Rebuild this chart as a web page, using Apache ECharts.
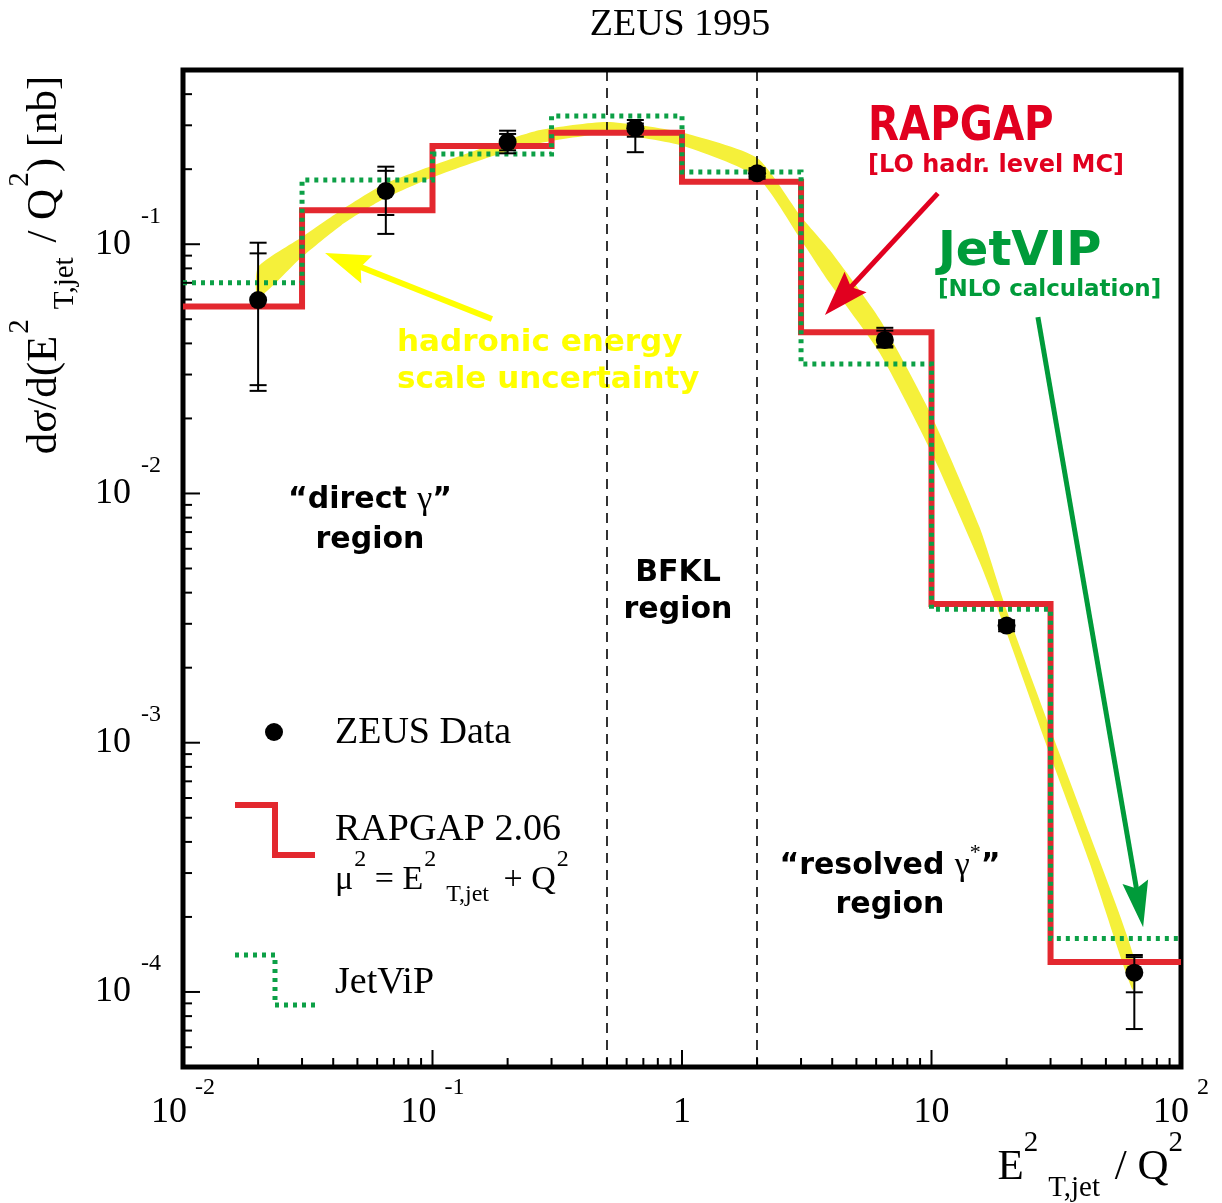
<!DOCTYPE html>
<html><head><meta charset="utf-8">
<script src="https://cdn.jsdelivr.net/npm/echarts@6/dist/echarts.min.js"></script>
<style>html,body{margin:0;padding:0;background:#fff}#c{width:1222px;height:1203px}</style>
</head><body><div id="c"></div>
<script>
// ---------------- data ----------------
const binEdges = [0.01, 0.03, 0.1, 0.3, 1, 3, 10, 30, 100];
const rapgap = [0.0562, 0.137, 0.248, 0.280, 0.178, 0.0443, 0.0036, 0.000132];
const jetvip = [0.0701, 0.181, 0.230, 0.327, 0.195, 0.0331, 0.00343, 0.000164];

const dataX  = [0.02, 0.065, 0.2, 0.65, 2.0, 6.5, 20, 65];
const dataY  = [0.0597, 0.1635, 0.257, 0.292, 0.1925, 0.0413, 0.00295, 0.0001195];
const statLo = [0.0272, 0.131, 0.238, 0.27, 0.186, 0.039, 0.00285, 0.0000997];
const statHi = [0.0919, 0.197, 0.277, 0.305, 0.199, 0.045, 0.00305, 0.000138];
const totLo  = [0.0258, 0.110, 0.2316, 0.234, 0.183, 0.0385, 0.0028, 0.000071];
const totHi  = [0.1014, 0.2047, 0.2854, 0.315, 0.202, 0.0462, 0.0031, 0.0001407];

const bandX  = [0.02, 0.03, 0.043, 0.063, 0.098, 0.19, 0.27, 0.5, 0.98, 2.0, 3.0, 3.9, 6.2, 9.9, 15.6, 20, 30, 43, 64];
const bandHi = [0.081, 0.107, 0.137, 0.173, 0.205, 0.258, 0.287, 0.309, 0.282, 0.222, 0.129, 0.095, 0.050, 0.021, 0.0073, 0.0034, 0.00113, 0.00043, 0.000143];
const bandLo = [0.061, 0.089, 0.119, 0.151, 0.184, 0.232, 0.255, 0.277, 0.250, 0.186, 0.104, 0.070, 0.0366, 0.0149, 0.0053, 0.00276, 0.00088, 0.00033, 0.000102];

const regionLines = [0.5, 2];

const arrowFrom = [[10.6, 0.160], [26.7, 0.0510], [0.173, 0.0501]];
const arrowTo   = [[3.74, 0.052], [70.5, 0.000182], [0.0371, 0.0923]];

const xMajorTicks = [0.01, 0.1, 1, 10, 100];
const yMajorTicks = [0.0001, 0.001, 0.01, 0.1];
const minorMult = [2, 3, 4, 5, 6, 7, 8, 9];
const xDecades = [0.01, 0.1, 1, 10];
const yDecades = [0.00001, 0.0001, 0.001, 0.01, 0.1];
const xMin = 0.01, xMax = 100, yMin = 0.00005, yMax = 0.5;

// ---------------- styles ----------------
const SERIF = '"Liberation Serif", "Times New Roman", serif';
const COMIC = '"DejaVu Sans", sans-serif';
const RED_LINE = '#e3282f', GREEN_LINE = '#0ca046';
const RED_TXT = '#e1001f', GREEN_TXT = '#009b3a', YELLOW_TXT = '#ffff00', BAND = '#f5f03a';
const arrowColor = [RED_TXT, GREEN_TXT, YELLOW_TXT];
const arrowWidth = [5, 5, 6];
const headLen = [45, 46, 45];
const headWid = [30, 26, 30];

function stepData(vals) {
  const d = vals.map((v, i) => [binEdges[i], v]);
  d.push([binEdges[binEdges.length - 1], vals[vals.length - 1]]);
  return d;
}

const tickData = [];
xMajorTicks.forEach(v => tickData.push([v, yMin, 17, 0]));
xDecades.forEach(d => minorMult.forEach(m => { const v = d * m; if (v < xMax) tickData.push([v, yMin, 9, 0]); }));
yMajorTicks.forEach(v => tickData.push([xMin, v, 17, 1]));
yDecades.forEach(d => minorMult.forEach(m => { const v = d * m; if (v > yMin && v < yMax) tickData.push([xMin, v, 9, 1]); }));

const chart = echarts.init(document.getElementById('c'), null, {renderer: 'canvas'});

function expOf(v) { const l = Math.log10(v); const e = Math.round(l); return Math.abs(l - e) < 1e-6 ? e : null; }

const option = {
  backgroundColor: '#fff',
  animation: false,
  grid: {left: 183, right: 41, top: 70, bottom: 136, show: true, borderColor: '#000', borderWidth: 5, containLabel: false, outerBoundsMode: 'none'},
  xAxis: {
    type: 'log', logBase: 10, min: xMin, max: xMax,
    axisLine: {show: false}, axisTick: {show: false}, splitLine: {show: false}, minorTick: {show: false},
    axisLabel: {
      margin: 6, color: '#000',
      formatter: v => {
        const e = expOf(v); if (e === null) return '';
        if (e === 0) return '{b|1}';
        if (e === 1) return '{b|10}';
        return '{b|10}{s|' + e + '}';
      },
      rich: {
        b: {fontFamily: SERIF, fontSize: 36, lineHeight: 80, color: '#000'},
        s: {fontFamily: SERIF, fontSize: 24, padding: [0, 0, 50, 8], color: '#000'}
      }
    }
  },
  yAxis: {
    type: 'log', logBase: 10, min: yMin, max: yMax,
    axisLine: {show: false}, axisTick: {show: false}, splitLine: {show: false}, minorTick: {show: false},
    axisLabel: {
      margin: 22, color: '#000', showMinLabel: false, showMaxLabel: false,
      formatter: v => {
        const e = expOf(v); if (e === null) return '';
        return '{b|10}{s|' + e + '}';
      },
      rich: {
        b: {fontFamily: SERIF, fontSize: 36, lineHeight: 90, color: '#000'},
        s: {fontFamily: SERIF, fontSize: 24, padding: [0, 0, 56, 10], color: '#000'}
      }
    }
  },
  series: [
    { // hadronic energy scale band
      type: 'custom', z: 1, silent: true,
      data: [[bandX[0], bandHi[0]]],
      renderItem: (params, api) => {
        const pts = [];
        for (let i = 0; i < bandX.length; i++) pts.push(api.coord([bandX[i], bandHi[i]]));
        for (let i = bandX.length - 1; i >= 0; i--) pts.push(api.coord([bandX[i], bandLo[i]]));
        return {type: 'polygon', shape: {points: pts, smooth: 0.2}, style: {fill: BAND}};
      }
    },
    { // RAPGAP
      type: 'line', step: 'end', z: 3, symbol: 'none', silent: true,
      data: stepData(rapgap),
      lineStyle: {color: RED_LINE, width: 6, join: 'miter', cap: 'butt'},
      markLine: {
        silent: true, symbol: 'none', z: 2,
        label: {show: false},
        lineStyle: {color: '#000', width: 1.6, type: [10, 7]},
        data: regionLines.map(v => ({xAxis: v}))
      }
    },
    { // JetViP
      type: 'line', step: 'end', z: 4, symbol: 'none', silent: true,
      data: stepData(jetvip),
      lineStyle: {color: GREEN_LINE, width: 5, type: [4, 5], join: 'miter', cap: 'butt'}
    },
    { // error bars
      type: 'custom', z: 5, silent: true,
      data: dataX.map((x, i) => [x, dataY[i], statLo[i], statHi[i], totLo[i], totHi[i]]),
      renderItem: (params, api) => {
        const x = api.value(0);
        const ends = [2, 3, 4, 5].map(k => api.coord([x, api.value(k)]));
        const cw = 8.5;
        const st = {stroke: '#000', lineWidth: 2};
        const ch = [{type: 'line', shape: {x1: ends[2][0], y1: ends[2][1], x2: ends[3][0], y2: ends[3][1]}, style: st}];
        ends.forEach(p => ch.push({type: 'line', shape: {x1: p[0] - cw, y1: p[1], x2: p[0] + cw, y2: p[1]}, style: st}));
        return {type: 'group', children: ch};
      }
    },
    { // ZEUS data
      type: 'scatter', z: 6, silent: true, symbol: 'circle', symbolSize: 18,
      itemStyle: {color: '#000', opacity: 1},
      data: dataX.map((x, i) => [x, dataY[i]])
    },
    { // arrows
      type: 'custom', z: 7, silent: true,
      data: arrowFrom.map(p => [p[0], p[1]]),
      renderItem: (params, api) => {
        const i = params.dataIndex;
        const a = api.coord(arrowFrom[i]), b = api.coord(arrowTo[i]);
        const dx = b[0] - a[0], dy = b[1] - a[1], L = Math.hypot(dx, dy), ux = dx / L, uy = dy / L;
        const hl = headLen[i], hw = headWid[i] / 2;
        const base = [b[0] - ux * hl, b[1] - uy * hl];
        const notch = [b[0] - ux * hl * 0.85, b[1] - uy * hl * 0.85];
        return {type: 'group', children: [
          {type: 'line', shape: {x1: a[0], y1: a[1], x2: notch[0] + ux * 2, y2: notch[1] + uy * 2}, style: {stroke: arrowColor[i], lineWidth: arrowWidth[i]}},
          {type: 'polygon', shape: {points: [b, [base[0] - uy * hw, base[1] + ux * hw], notch, [base[0] + uy * hw, base[1] - ux * hw]]}, style: {fill: arrowColor[i]}}
        ]};
      }
    },
    { // axis ticks
      type: 'custom', z: 8, silent: true,
      data: tickData,
      renderItem: (params, api) => {
        const p = api.coord([api.value(0), api.value(1)]);
        const len = api.value(2), o = api.value(3);
        const shape = o === 0 ? {x1: p[0], y1: p[1], x2: p[0], y2: p[1] - len} : {x1: p[0], y1: p[1], x2: p[0] + len, y2: p[1]};
        return {type: 'line', shape: shape, style: {stroke: '#000', lineWidth: 2}};
      }
    }
  ],
  graphic: [
    {type: 'text', x: 680, y: 25, style: {text: 'ZEUS 1995', font: '38px ' + SERIF, fill: '#000', align: 'center', verticalAlign: 'middle'}},
    {type: 'text', x: 45, y: 265, rotation: Math.PI / 2, style: {
      text: '{m|dσ/d(E}{sup|2}{sub|T,jet}{m| / Q}{sup|2}{m|) [nb]}', align: 'center', verticalAlign: 'middle',
      rich: {
        m: {fontFamily: SERIF, fontSize: 43, fill: '#000', lineHeight: 100},
        sup: {fontFamily: SERIF, fontSize: 29, fill: '#000', padding: [0, 0, 50, 2]},
        sub: {fontFamily: SERIF, fontSize: 29, fill: '#000', padding: [40, 4, 0, 10]}
      }}},
    {type: 'text', x: 1183, y: 1168, style: {
      text: '{m|E}{sup|2}{sub|T,jet}{m| / Q}{sup|2}', align: 'right', verticalAlign: 'middle',
      rich: {
        m: {fontFamily: SERIF, fontSize: 43, fill: '#000', lineHeight: 100},
        sup: {fontFamily: SERIF, fontSize: 29, fill: '#000', padding: [0, 0, 50, 0]},
        sub: {fontFamily: SERIF, fontSize: 29, fill: '#000', padding: [40, 4, 0, 10]}
      }}},
    // legend
    {type: 'circle', shape: {cx: 274, cy: 732, r: 9}, style: {fill: '#000'}},
    {type: 'text', x: 335, y: 733, style: {text: 'ZEUS Data', font: '38px ' + SERIF, fill: '#000', verticalAlign: 'middle'}},
    {type: 'polyline', shape: {points: [[235, 805], [275, 805], [275, 855], [315, 855]]}, style: {stroke: RED_LINE, lineWidth: 6, lineJoin: 'miter', fill: null}},
    {type: 'text', x: 335, y: 830, style: {text: 'RAPGAP 2.06', font: '38px ' + SERIF, fill: '#000', verticalAlign: 'middle'}},
    {type: 'text', x: 335, y: 880, style: {
      text: '{m|μ}{sup|2}{m| = E}{sup|2}{sub|T,jet}{m| + Q}{sup|2}', verticalAlign: 'middle',
      rich: {
        m: {fontFamily: SERIF, fontSize: 34, fill: '#000', lineHeight: 80},
        sup: {fontFamily: SERIF, fontSize: 24, fill: '#000', padding: [0, 0, 40, 1]},
        sub: {fontFamily: SERIF, fontSize: 24, fill: '#000', padding: [30, 6, 0, 10]}
      }}},
    {type: 'polyline', shape: {points: [[235, 955], [275, 955], [275, 1005], [315, 1005]]}, style: {stroke: GREEN_LINE, lineWidth: 5, lineDash: [4, 5], fill: null}},
    {type: 'text', x: 335, y: 983, style: {text: 'JetViP', font: '38px ' + SERIF, fill: '#000', verticalAlign: 'middle'}},
    // annotations
    {type: 'text', x: 868, y: 128, scaleX: 0.84, style: {text: 'RAPGAP', font: 'bold 48px ' + COMIC, fill: RED_TXT, verticalAlign: 'middle'}},
    {type: 'text', x: 868, y: 166, style: {text: '[LO hadr. level MC]', font: 'bold 24px ' + COMIC, fill: RED_TXT, verticalAlign: 'middle'}},
    {type: 'text', x: 938, y: 253, style: {text: 'JetVIP', font: 'bold 48px ' + COMIC, fill: GREEN_TXT, verticalAlign: 'middle'}},
    {type: 'text', x: 938, y: 290, style: {text: '[NLO calculation]', font: 'bold 23px ' + COMIC, fill: GREEN_TXT, verticalAlign: 'middle'}},
    {type: 'text', x: 397, y: 343, style: {text: 'hadronic energy', font: 'bold 31px ' + COMIC, fill: YELLOW_TXT, verticalAlign: 'middle'}},
    {type: 'text', x: 397, y: 380, style: {text: 'scale uncertainty', font: 'bold 31px ' + COMIC, fill: YELLOW_TXT, verticalAlign: 'middle'}},
    {type: 'text', x: 370, y: 500, style: {text: '{c|“direct }{g|γ}{c|”}', align: 'center', verticalAlign: 'middle',
      rich: {c: {fontFamily: COMIC, fontWeight: 'bold', fontSize: 30, fill: '#000'}, g: {fontFamily: SERIF, fontSize: 34, fill: '#000'}}}},
    {type: 'text', x: 370, y: 540, style: {text: 'region', font: 'bold 30px ' + COMIC, fill: '#000', align: 'center', verticalAlign: 'middle'}},
    {type: 'text', x: 678, y: 573, style: {text: 'BFKL', font: 'bold 30px ' + COMIC, fill: '#000', align: 'center', verticalAlign: 'middle'}},
    {type: 'text', x: 678, y: 610, style: {text: 'region', font: 'bold 30px ' + COMIC, fill: '#000', align: 'center', verticalAlign: 'middle'}},
    {type: 'text', x: 890, y: 866, style: {text: '{c|“resolved }{g|γ}{s|*}{c|”}', align: 'center', verticalAlign: 'middle',
      rich: {c: {fontFamily: COMIC, fontWeight: 'bold', fontSize: 30, fill: '#000'}, g: {fontFamily: SERIF, fontSize: 34, fill: '#000'},
             s: {fontFamily: SERIF, fontSize: 22, fill: '#000', padding: [0, 0, 26, 0]}}}},
    {type: 'text', x: 890, y: 905, style: {text: 'region', font: 'bold 30px ' + COMIC, fill: '#000', align: 'center', verticalAlign: 'middle'}}
  ]
};
chart.setOption(option);
</script>
</body></html>
